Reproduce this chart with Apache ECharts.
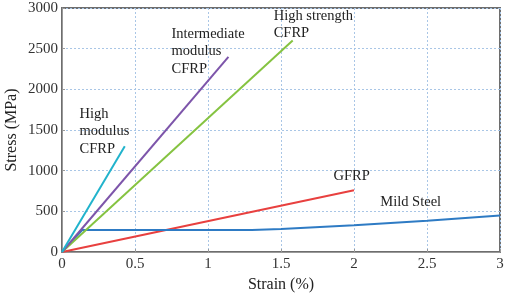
<!DOCTYPE html>
<html><head><meta charset="utf-8">
<script src="https://cdn.jsdelivr.net/npm/echarts@6/dist/echarts.min.js"></script>
<style>html,body{margin:0;padding:0;background:#fff}#c{width:505px;height:294px}</style>
</head><body><div id="c"></div>
<script>
var xTicks = [0, 0.5, 1, 1.5, 2, 2.5, 3];
var yTicks = [0, 500, 1000, 1500, 2000, 2500, 3000];
var highModulus = [[0, 0], [0.43, 1300]];
var intermediateModulus = [[0, 0], [1.14, 2400]];
var highStrength = [[0, 0], [1.58, 2600]];
var gfrp = [[0, 0], [2.0, 760]];
var mildSteel = [[0, 0], [0.14, 272], [1.3, 272], [1.5, 282], [2.0, 328], [2.5, 385], [3.0, 450]];
var labelTexts = ['High\nmodulus\nCFRP', 'Intermediate\nmodulus\nCFRP', 'High strength\nCFRP', 'GFRP', 'Mild Steel'];
var labelAnchors = [[0.12, 1805], [0.75, 2790], [1.45, 3010], [1.86, 1040], [2.18, 715]];

var font = '"Liberation Serif", "DejaVu Serif", serif';
var chart = echarts.init(document.getElementById('c'));
function mk(name, data, color) {
  return {type: 'line', name: name, data: data, showSymbol: false, symbol: 'none',
    lineStyle: {color: color, width: 2}, animation: false};
}
chart.setOption({
  animation: false,
  grid: {left: 62, right: 5, top: 8, bottom: 42, show: true, borderColor: '#6e6e6e', borderWidth: 2,
    outerBoundsMode: 'none', containLabel: false},
  xAxis: {type: 'value', min: 0, max: 3, interval: 0.5,
    name: 'Strain (%)', nameLocation: 'middle', nameGap: 25,
    nameTextStyle: {fontFamily: font, fontSize: 16, color: '#222'},
    axisLine: {lineStyle: {color: '#999'}},
    axisTick: {show: true, inside: true, length: 3, lineStyle: {color: '#999'}},
    axisLabel: {fontFamily: font, fontSize: 15, color: '#333', margin: 5,
      formatter: function (v) { return xTicks.indexOf(v) >= 0 ? String(v) : ''; }},
    splitLine: {show: true, lineStyle: {color: '#a9c6e6', type: [2, 2], width: 1}}},
  yAxis: {type: 'value', min: 0, max: 3000, interval: 500,
    name: 'Stress (MPa)', nameLocation: 'middle', nameGap: 42, nameMoveOverlap: false,
    nameTextStyle: {fontFamily: font, fontSize: 16, color: '#222'},
    axisLine: {show: true, lineStyle: {color: '#999'}},
    axisTick: {show: true, inside: true, length: 3, lineStyle: {color: '#999'}},
    axisLabel: {fontFamily: font, fontSize: 15, color: '#333', margin: 4,
      formatter: function (v) { return yTicks.indexOf(v) >= 0 ? String(v) : ''; }},
    splitLine: {show: true, lineStyle: {color: '#a9c6e6', type: [2, 2], width: 1}}},
  series: [
    mk('GFRP', gfrp, '#e8403f'),
    mk('Mild Steel', mildSteel, '#2e7bc4'),
    mk('High strength CFRP', highStrength, '#85c341'),
    mk('Intermediate modulus CFRP', intermediateModulus, '#7d55aa'),
    mk('High modulus CFRP', highModulus, '#21b3cc')
  ]
});
var g = labelTexts.map(function (t, i) {
  var p = chart.convertToPixel({gridIndex: 0}, labelAnchors[i]);
  return {type: 'text', x: p[0], y: p[1], z: 100,
    style: {text: t, fontFamily: font, fontSize: 14.5, lineHeight: 17.5, fill: '#222',
      textAlign: 'left', textVerticalAlign: 'top'}};
});
chart.setOption({graphic: g});
</script></body></html>
